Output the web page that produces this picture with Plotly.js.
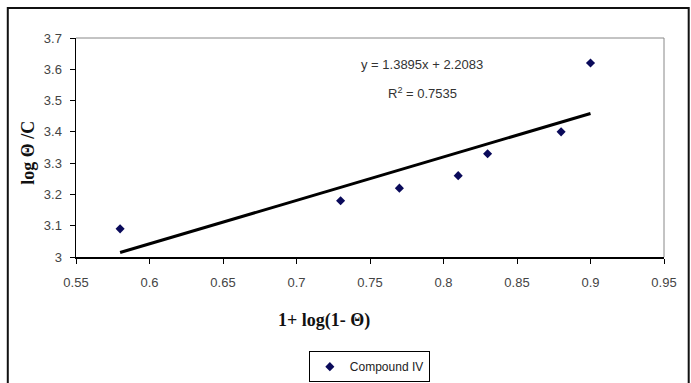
<!DOCTYPE html>
<html>
<head>
<meta charset="utf-8">
<script src="https://cdn.plot.ly/plotly-3.0.1.min.js"></script>
<style>html,body{margin:0;padding:0;background:#fff;}#chart{width:691px;height:383px;}</style>
</head>
<body>
<div id="chart"></div>
<script>
var xValues = [0.58, 0.73, 0.77, 0.81, 0.83, 0.88, 0.90];
var yValues = [3.09, 3.18, 3.22, 3.26, 3.33, 3.40, 3.62];
var seriesName = "Compound IV";
var fitSlope = 1.3895;
var fitIntercept = 2.2083;
var fitR2 = 0.7535;
var xTicks = [0.55, 0.6, 0.65, 0.7, 0.75, 0.8, 0.85, 0.9, 0.95];
var xTickLabels = ["0.55", "0.6", "0.65", "0.7", "0.75", "0.8", "0.85", "0.9", "0.95"];
var yTicks = [3, 3.1, 3.2, 3.3, 3.4, 3.5, 3.6, 3.7];
var yTickLabels = ["3", "3.1", "3.2", "3.3", "3.4", "3.5", "3.6", "3.7"];

var xMin = Math.min.apply(null, xValues), xMax = Math.max.apply(null, xValues);
var fitX = [xMin, xMax];
var fitY = fitX.map(function (x) { return fitSlope * x + fitIntercept; });

var data = [
  {x: xValues, y: yValues, type: "scatter", mode: "markers", name: seriesName,
   marker: {symbol: "diamond", size: 7, color: "#0a0a5a"}},
  {x: fitX, y: fitY, type: "scatter", mode: "lines", showlegend: false, hoverinfo: "skip",
   line: {color: "#000", width: 3}}
];

var tickFont = {family: "Liberation Sans, Arial, sans-serif", size: 13, color: "#444"};
var layout = {
  width: 691, height: 383,
  margin: {l: 76, r: 27, t: 38, b: 126, autoexpand: false},
  paper_bgcolor: "#fff", plot_bgcolor: "#fff",
  showlegend: true,
  legend: {x: 0.396, y: -0.43, xanchor: "left", yanchor: "top", bordercolor: "#000", borderwidth: 1,
    font: {family: "Liberation Sans, Arial, sans-serif", size: 12, color: "#222"}, itemwidth: 30,
    bgcolor: "#fff"},
  xaxis: {range: [0.55, 0.95], tickvals: xTicks, ticktext: xTickLabels, ticks: "outside", ticklen: 5,
    tickcolor: "#000", showline: true, linecolor: "#000", linewidth: 1.5, showgrid: false, zeroline: false,
    tickfont: tickFont, ticklabelstandoff: 8},
  yaxis: {range: [3, 3.7], tickvals: yTicks, ticktext: yTickLabels, ticks: "outside", ticklen: 5,
    tickcolor: "#000", showline: true, linecolor: "#000", linewidth: 1.5, showgrid: false, zeroline: false,
    tickfont: tickFont, ticklabelstandoff: 5},
  shapes: [
    {type: "line", xref: "paper", yref: "paper", x0: 0, x1: 1, y0: 1, y1: 1, line: {color: "#888", width: 1}},
    {type: "line", xref: "paper", yref: "paper", x0: 1, x1: 1, y0: 0, y1: 1, line: {color: "#888", width: 1}},
    {type: "rect", xref: "paper", yref: "paper", x0: -0.116, x1: 1.042, y0: -0.7, y1: 1.137,
     line: {color: "#111", width: 2}, layer: "below"}
  ],
  annotations: [
    {text: "y = " + fitSlope + "x + " + fitIntercept, xref: "paper", yref: "paper", x: 0.589, y: 0.877,
     xanchor: "center", yanchor: "middle",
     showarrow: false, font: {family: "Liberation Sans, Arial, sans-serif", size: 13, color: "#333"}},
    {text: "R<sup>2</sup> = " + fitR2, xref: "paper", yref: "paper", x: 0.589, y: 0.75,
     xanchor: "center", yanchor: "middle",
     showarrow: false, font: {family: "Liberation Sans, Arial, sans-serif", size: 13, color: "#333"}},
    {text: "1+ log(1- Θ)", xref: "paper", yref: "paper", x: 0.422, y: -0.288, xanchor: "center", yanchor: "middle",
     showarrow: false,
     font: {family: "Liberation Serif, Times New Roman, serif", size: 18, color: "#111", weight: "bold"}},
    {text: "log Θ /C", xref: "paper", yref: "paper", x: -0.082, y: 0.475, xanchor: "center", yanchor: "middle",
     showarrow: false, textangle: -90,
     font: {family: "Liberation Serif, Times New Roman, serif", size: 18, color: "#111", weight: "bold"}}
  ]
};
Plotly.newPlot("chart", data, layout, {displayModeBar: false, staticPlot: true});
</script>
</body>
</html>
